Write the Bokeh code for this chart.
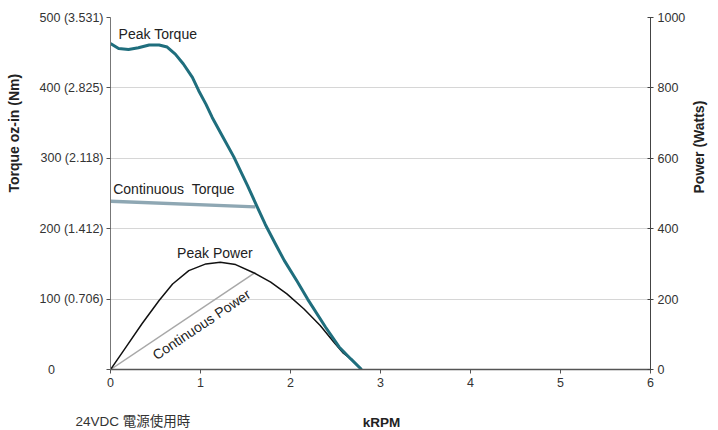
from bokeh.plotting import figure
from bokeh.models import Range1d, LinearAxis, FixedTicker, Label
from bokeh.embed import file_html
from bokeh.resources import INLINE

# ---- data (kRPM, oz-in / Watts) ----
peak_torque_x = [0.0, 0.09, 0.20, 0.31, 0.43, 0.54, 0.63, 0.72, 0.81, 0.91, 0.98, 1.06, 1.13, 1.25, 1.37, 1.46, 1.52, 1.63, 1.72, 1.83, 1.93, 2.07, 2.19, 2.39, 2.54, 2.67, 2.79]
peak_torque_y = [463, 456, 454.5, 457, 461, 461, 458, 448, 434, 415, 396, 377, 358, 330, 302, 278, 262, 231, 206, 179, 155, 126, 100, 60, 32, 15, 0]

cont_torque_x = [0.0, 1.61]
cont_torque_y = [239, 231]

peak_power_x = [0.0, 0.17, 0.35, 0.54, 0.69, 0.87, 1.06, 1.22, 1.39, 1.59, 1.78, 1.96, 2.15, 2.33, 2.48, 2.58, 2.67, 2.79]
peak_power_y = [0, 63, 130, 196, 243, 281, 300, 305, 298, 275, 248, 215, 172, 125, 78, 48, 30, 0]

cont_power_x = [0.0, 1.61]
cont_power_y = [0, 276]

x_ticks = [0, 1, 2, 3, 4, 5, 6]
torque_ticks = [0, 100, 200, 300, 400, 500]
torque_labels = ["0" + "\u00a0" * 14, "100 (0.706)", "200 (1.412)", "300 (2.118)", "400 (2.825)", "500 (3.531)"]
power_ticks = [0, 200, 400, 600, 800, 1000]

FONT = "Liberation Sans"
NB = "\u00a0"

p = figure(width=718, height=430, output_backend="svg", toolbar_location=None,
           x_range=Range1d(0, 6), y_range=Range1d(0, 500),
           min_border_left=110, min_border_right=68, min_border_top=17, min_border_bottom=61)
p.outline_line_color = None
p.background_fill_color = "white"
p.border_fill_color = "white"
p.xgrid.visible = False
p.ygrid.grid_line_color = "#d6d6d6"
p.ygrid.grid_line_width = 1
p.ygrid.ticker = FixedTicker(ticks=torque_ticks)

p.extra_y_ranges = {"power": Range1d(0, 1000)}

# left axis
la = p.yaxis[0]
la.ticker = FixedTicker(ticks=torque_ticks)
la.major_label_overrides = {t: l for t, l in zip(torque_ticks, torque_labels)}
la.axis_line_color = "#777777"
la.major_tick_line_color = "#555555"
la.major_tick_in = 0
la.major_tick_out = 4
la.minor_tick_line_color = None
la.major_label_standoff = 3
la.major_label_text_font = FONT
la.major_label_text_font_size = "12.5px"
la.major_label_text_color = "#333333"
la.axis_label = NB * 31 + "Torque oz-in (Nm)"
la.axis_label_text_font = FONT
la.axis_label_text_font_style = "bold"
la.axis_label_text_font_size = "14px"
la.axis_label_text_color = "#222222"
la.axis_label_standoff = 15

# bottom axis
ba = p.xaxis[0]
ba.ticker = FixedTicker(ticks=x_ticks)
ba.axis_line_color = "#555555"
ba.axis_line_width = 1.5
ba.major_tick_line_color = "#555555"
ba.major_tick_in = 0
ba.major_tick_out = 4
ba.minor_tick_line_color = None
ba.major_label_standoff = 4
ba.major_label_text_font = FONT
ba.major_label_text_font_size = "12.5px"
ba.major_label_text_color = "#333333"

# right axis
ra = LinearAxis(y_range_name="power", ticker=FixedTicker(ticks=power_ticks))
ra.axis_line_color = "#444444"
ra.major_tick_line_color = "#444444"
ra.major_tick_in = 3
ra.major_tick_out = 3
ra.minor_tick_line_color = None
ra.major_label_standoff = 4
ra.major_label_text_font = FONT
ra.major_label_text_font_size = "12.5px"
ra.major_label_text_color = "#333333"
ra.axis_label = "Power (Watts)"
ra.axis_label_orientation = 1.5707963
ra.axis_label_text_font = FONT
ra.axis_label_text_font_style = "bold"
ra.axis_label_text_font_size = "14px"
ra.axis_label_text_color = "#222222"
ra.axis_label_standoff = 11
p.add_layout(ra, "right")

# curves
p.line(cont_power_x, cont_power_y, y_range_name="power", line_color="#a8a8a8", line_width=1.5)
p.line(peak_power_x, peak_power_y, y_range_name="power", line_color="#111111", line_width=1.5, line_join="round")
p.line(cont_torque_x, cont_torque_y, line_color="#8ea7b3", line_width=3.5)
p.line(peak_torque_x, peak_torque_y, line_color="#1f6e7d", line_width=3, line_join="round")

def lab(x, y, text, size="14px", align="left", baseline="middle", angle=0.0, bold=False, font=FONT, color="#222222", place="center"):
    p.add_layout(Label(x=x, y=y, text=text, text_font=font, text_font_size=size,
                       text_align=align, text_baseline=baseline, angle=angle,
                       text_font_style="bold" if bold else "normal", text_color=color), place)

# curve labels
lab(0.09, 477, "Peak Torque")
lab(0.03, 257, "Continuous\u00a0\u00a0Torque")
lab(0.74, 166, "Peak Power")
lab(1.01, 64, "Continuous Power", align="center", angle=0.59)

# x-axis title and footnote (in the bottom panel)
lab(3.011, -75.3, "kRPM", size="13.5px", align="center", bold=True, place="below")
lab(-0.389, -74, "24VDC 電源使用時", size="13.5px", font="Liberation Sans, Noto Sans CJK TC", color="#333333", place="below")

open("out.html", "w").write(file_html(p, INLINE))
